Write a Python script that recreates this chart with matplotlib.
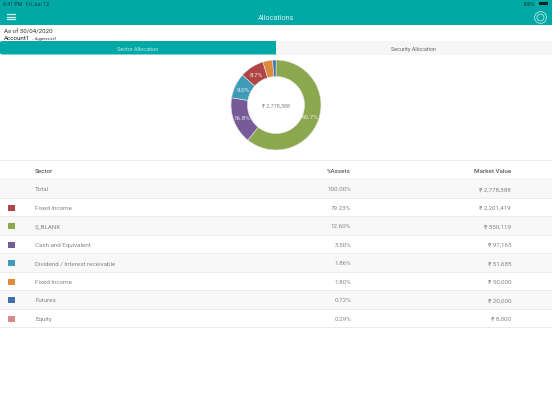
import math

import matplotlib
matplotlib.use("Agg")
import matplotlib.pyplot as plt
from matplotlib.patches import Rectangle, FancyBboxPatch

plt.rcParams["font.family"] = ["Roboto", "DejaVu Sans"]

TEAL = "#00a8a6"
LINE = "#ececec"
GREY = "#858585"
HEAD = "#5c5c5c"

pie_values = [60.7, 16.8, 9.0, 8.7, 3.5, 1.2]
pie_labels = ["60.7%", "16.8%", "9.0%", "8.7%", "", ""]
pie_colors = ["#8ba84f", "#765a9a", "#3e9cb8", "#b04545", "#e08a3c", "#3f6fb0"]

row_colors = [None, "#b04545", "#8ba84f", "#765a9a", "#3e9cb8", "#e08a3c", "#3f6fb0", "#d98a8a"]
sectors = ["Total", "Fixed Income", "S_BLANK", "Cash and Equivalent",
           "Dividend / Interest receivable", "Fixed Income", "Futures", "Equity"]
assets = ["100.00%", "79.23%", "12.60%", "3.50%", "1.86%", "1.80%", "0.72%", "0.29%"]
market = ["₹ 2,778,388", "₹ 2,201,419", "₹ 350,119", "₹ 97,165",
          "₹ 51,685", "₹ 50,000", "₹ 20,000", "₹ 8,000"]

fig = plt.figure(figsize=(5.52, 4.14), dpi=100)
ax = fig.add_axes([0, 0, 1, 1])
ax.set_xlim(0, 552)
ax.set_ylim(414, 0)
ax.axis("off")

# header bar
ax.add_patch(Rectangle((0, 0), 552, 26, color=TEAL, lw=0))
ax.text(3, 4.8, "6:41 PM   Fri Jun 12", fontsize=3.8, color="#1c3a3a", va="center")
ax.text(535, 4.8, "100%", fontsize=3.8, color="#1c3a3a", va="center", ha="right")
ax.add_patch(Rectangle((539, 3), 9, 3.2, color="#10201f", lw=0))
ax.text(276, 18, "Allocations", fontsize=5.2, color="#d8f2f0", ha="center", va="center")
for y in (14.5, 17.5, 20):
    ax.plot([7, 15], [y, y], color="#d8f2f0", lw=0.9)
ax.plot([540], [17.5], marker="o", ms=8.5, mfc="none", mec="#bfe8e5", mew=0.6)
ax.plot([540], [17.5], marker="o", ms=5, mfc="none", mec="#bfe8e5", mew=0.6)

ax.text(4, 31.5, "As of 30/04/2020", fontsize=4.4, color="#333333", va="center")
ax.text(4, 38.5, "Account1", fontsize=4.4, color="#222222", va="center")
ax.text(31, 38.8, "~ Aggressive1", fontsize=2.9, color="#333333", va="center")

# tabs, the grey one covers the right end of the rounded teal one
ax.add_patch(FancyBboxPatch((0, 42), 290, 13.5, boxstyle="round,pad=0,rounding_size=2",
                            fc=TEAL, ec=TEAL, lw=0))
ax.add_patch(Rectangle((276, 41), 276, 15, fc="white", lw=0))
ax.add_patch(Rectangle((276, 42), 276, 13.5, fc="#f6f6f6", lw=0))
ax.text(138, 49.5, "Sector Allocation", fontsize=4, color="#bfeae8", ha="center", va="center")
ax.text(413.5, 49.5, "Security Allocation", fontsize=4, color="#666666", ha="center", va="center")

# table
header_top = 161
rows_top = 180
row_h = 18.5
ax.plot([0, 552], [header_top, header_top], color=LINE, lw=0.7)
for label, x, ha in [("Sector", 35, "left"), ("%Assets", 351, "right"), ("Market Value", 511, "right")]:
    ax.text(x, 171.5, label, fontsize=4.5, color=HEAD, va="center", ha=ha, fontweight="medium")

for i, name in enumerate(sectors):
    top = rows_top + i * row_h
    mid = top + row_h / 2 + 0.5
    if i % 2 == 0:
        ax.add_patch(Rectangle((0, top), 552, row_h, color="#f8f8f8", lw=0))
    ax.plot([0, 552], [top, top], color=LINE, lw=0.7)
    if row_colors[i]:
        ax.add_patch(Rectangle((8, mid - 2.5), 6.5, 6, color=row_colors[i], lw=0))
    ax.text(35, mid, name, fontsize=4.5, color=GREY, va="center")
    ax.text(351, mid, assets[i], fontsize=4.5, color=GREY, va="center", ha="right")
    ax.text(511, mid, market[i], fontsize=4.5, color=GREY, va="center", ha="right")
bottom = rows_top + len(sectors) * row_h
ax.plot([0, 552], [bottom, bottom], color=LINE, lw=0.7)

# donut
pie_ax = fig.add_axes([(276 - 50) / 552, 1 - (106 + 50) / 414, 100 / 552, 100 / 414])
pie_ax.pie(pie_values, colors=pie_colors, startangle=90, counterclock=False, radius=0.9,
           wedgeprops=dict(width=0.33, edgecolor="#e8e8e8", linewidth=0.4))
pie_ax.set_xlim(-1, 1)
pie_ax.set_ylim(-1, 1)
total = sum(pie_values)
angle = 90.0
for val, lab in zip(pie_values, pie_labels):
    span = val / total * 360
    mid_a = math.radians(angle - span / 2)
    angle -= span
    if lab:
        pie_ax.text(0.72 * math.cos(mid_a), 0.72 * math.sin(mid_a), lab, fontsize=4.5,
                    color="#eeeeee", ha="center", va="center")
pie_ax.text(0, 0, "₹ 2,778,388", fontsize=4, color=GREY, ha="center", va="center")

fig.savefig("out.png", dpi=100)
